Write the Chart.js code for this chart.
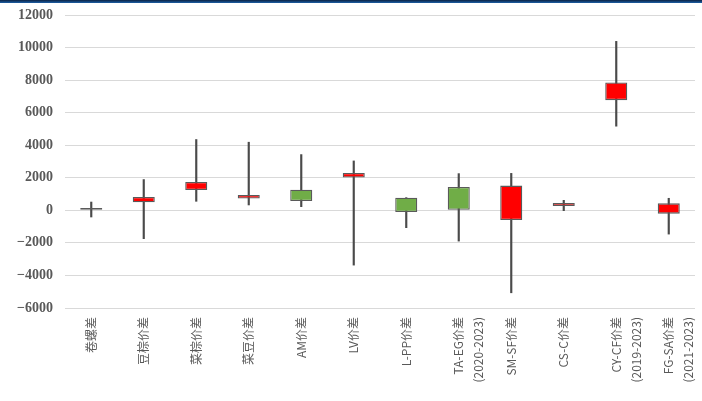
<!DOCTYPE html>
<html lang="zh">
<head>
    <meta charset="UTF-8">
    <title>价差 K 线图</title>
    <style>
        body {
            margin: 0;
            padding: 0;
            background-color: #ffffff;
        }
        #wrap {
            position: relative;
            width: 702px;
            height: 401px;
        }
        #topbar {
            position: absolute;
            left: 0;
            top: 0;
            width: 702px;
            height: 3px;
            background: linear-gradient(to bottom, #0b2244, #1c5fa6);
        }
    </style>
</head>
<body>
    <div id="wrap">
        <canvas id="chart1" width="702" height="401"></canvas>
        <div id="topbar"></div>
    </div>

    <script src="https://cdn.jsdelivr.net/npm/chart.js"></script>
    <script>
        // category labels (multi-line ones as arrays)
        var categories = [
            '卷螺差', '豆棕价差', '菜棕价差', '菜豆价差', 'AM价差', 'LV价差',
            'L-PP价差', ['TA-EG价差', '(2020-2023)'], 'SM-SF价差', 'CS-C价差',
            ['CY-CF价差', '(2019-2023)'], ['FG-SA价差', '(2021-2023)']
        ];
        var openVals  = [  30,   820, 1745,  940,  575, 2300, -100,   40, 1520, 450, 7855,  430];
        var closeVals = [ 150,   490, 1250,  720, 1270, 2010,  780, 1435, -595, 270, 6770, -205];
        var highVals  = [ 510,  1890, 4350, 4185, 3425, 3035,  780, 2255, 2270, 615, 10380, 740];
        var lowVals   = [-410, -1740,  555,  330,  225, -3365, -1065, -1890, -5065, -20, 5170, -1460];

        var yMin = -6000, yMax = 12000, yStep = 2000;

        var bodies = openVals.map(function(o, i) { return [o, closeVals[i]]; });
        var wicks = lowVals.map(function(l, i) { return [l, highVals[i]]; });
        var bodyColors = openVals.map(function(o, i) {
            return closeVals[i] > o ? '#70AD47' : '#FF0000';
        });

        var ctx = document.getElementById('chart1').getContext('2d');
        new Chart(ctx, {
            type: 'bar',
            data: {
                labels: categories,
                datasets: [{
                    label: 'body',
                    data: bodies,
                    backgroundColor: bodyColors,
                    borderColor: '#5a5a5a',
                    borderWidth: 1.3,
                    borderSkipped: false,
                    barPercentage: 0.42,
                    categoryPercentage: 1,
                    grouped: false,
                    order: 1
                }, {
                    label: 'wick',
                    data: wicks,
                    backgroundColor: '#4a4a4a',
                    borderWidth: 0,
                    barThickness: 1.5,
                    grouped: false,
                    order: 2
                }]
            },
            options: {
                responsive: false,
                animation: false,
                layout: { padding: { top: 15, right: 7, bottom: 0, left: 0 } },
                plugins: {
                    legend: { display: false },
                    tooltip: { enabled: false }
                },
                scales: {
                    x: {
                        grid: { display: false, drawTicks: false },
                        border: { display: false },
                        ticks: {
                            color: '#595959',
                            font: { family: '"Noto Sans CJK SC", "Noto Sans", sans-serif', size: 12, lineHeight: 1.65 },
                            minRotation: 90,
                            maxRotation: 90,
                            autoSkip: false,
                            padding: 9
                        },
                        afterFit: function(scale) {
                            scale.height = 93;
                            scale.paddingLeft = 0;
                            scale.paddingRight = 0;
                        }
                    },
                    y: {
                        min: yMin,
                        max: yMax,
                        grid: { color: '#d9d9d9', lineWidth: 1, drawTicks: false },
                        border: { display: false },
                        ticks: {
                            stepSize: yStep,
                            color: '#595959',
                            padding: 12,
                            font: { family: '"Liberation Serif", serif', size: 14, weight: 'bold' },
                            callback: function(v) { return String(v).replace('-', '\u2212'); }
                        },
                        afterFit: function(scale) {
                            scale.width = 65;
                            scale.paddingTop = 0;
                            scale.paddingBottom = 0;
                        }
                    }
                }
            }
        });
    </script>
</body>
</html>
